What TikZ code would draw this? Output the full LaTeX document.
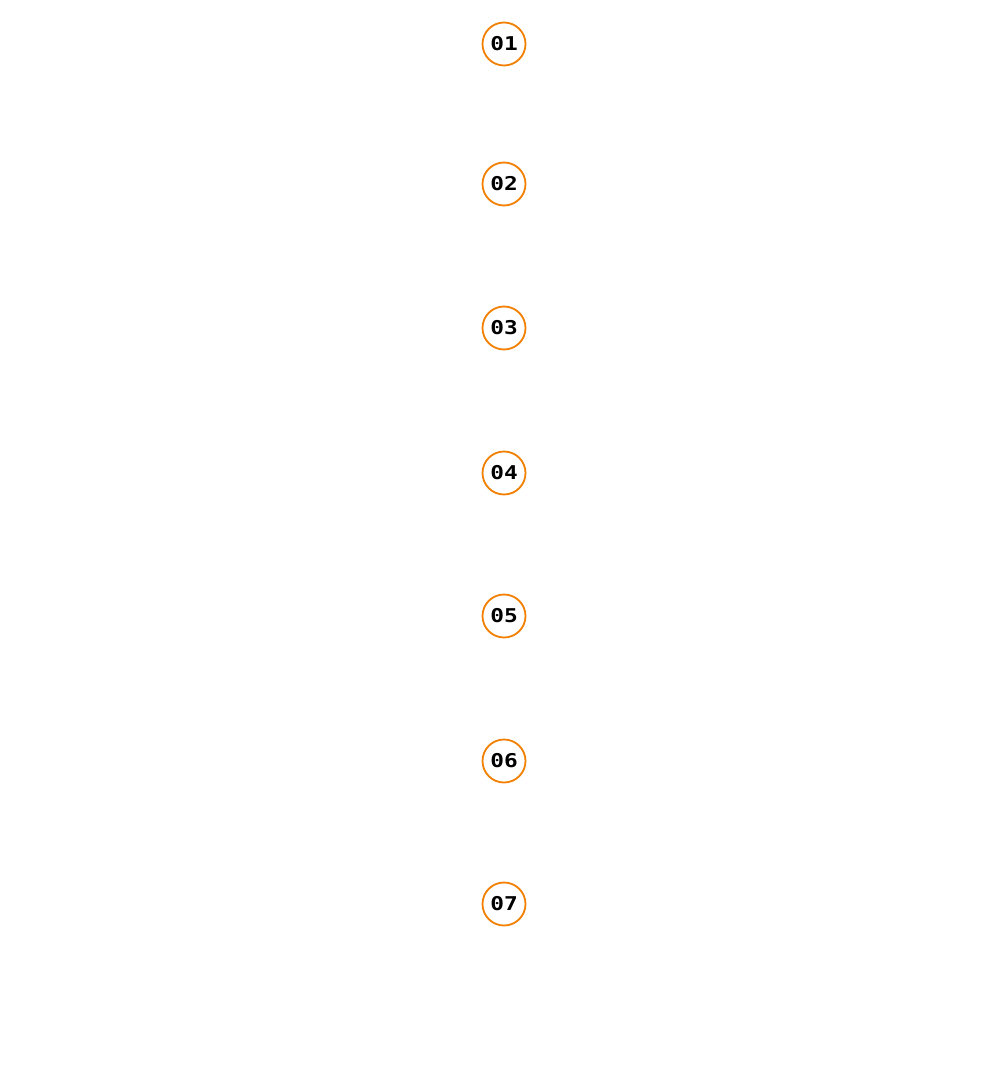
\documentclass[tikz,border=0pt]{standalone}
\usepackage{fontspec}
\usepackage{graphicx}
\newfontfamily\numfont{DejaVu Sans Mono}
\definecolor{ring}{HTML}{F28000}
\newcommand{\widenum}[1]{\scalebox{1.2}[1]{#1}}
\begin{document}
\begin{tikzpicture}[x=1pt,y=1pt,
  stepnode/.style={circle,draw=ring,line width=1.8pt,minimum size=43pt,inner sep=0pt,font=\numfont\bfseries\fontsize{19}{19}\selectfont,text=black}]
\useasboundingbox (0,0) rectangle (994,-1091);
\node[stepnode] (s1) at (504,-44) {\widenum{01}};
\node[stepnode] (s2) at (504,-184) {\widenum{02}};
\node[stepnode] (s3) at (504,-328) {\widenum{03}};
\node[stepnode] (s4) at (504,-473) {\widenum{04}};
\node[stepnode] (s5) at (504,-616) {\widenum{05}};
\node[stepnode] (s6) at (504,-761) {\widenum{06}};
\node[stepnode] (s7) at (504,-904) {\widenum{07}};
\end{tikzpicture}
\end{document}
